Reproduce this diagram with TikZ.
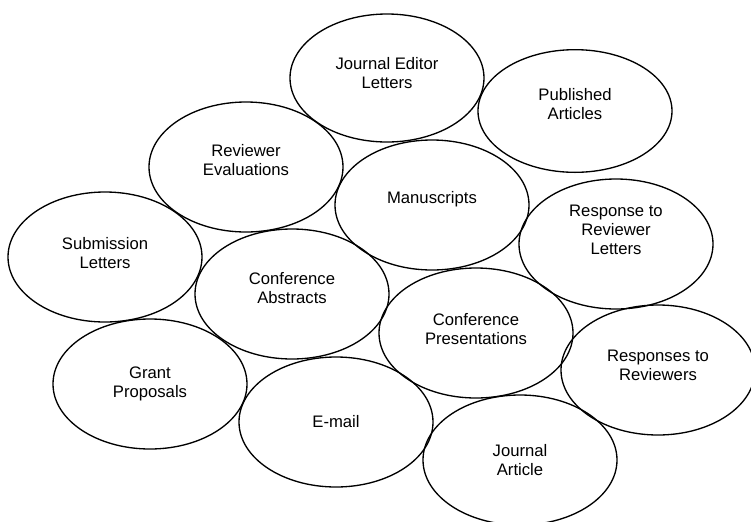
\documentclass[tikz,border=0pt]{standalone}
\usepackage{fontspec}
\setmainfont{Liberation Sans}
\usetikzlibrary{shapes.geometric}

\begin{document}
\begin{tikzpicture}[
    x=0.75pt, y=-0.75pt,
    bubble/.style={draw, line width=1pt, ellipse, inner sep=0pt,
                   minimum width=145.5pt, minimum height=97.5pt},
    txt/.style={align=center, inner sep=0pt,
                font=\fontsize{12.5}{14.3}\selectfont},
]
    \useasboundingbox (0,0) rectangle (751,522);

    % the twelve ellipses
    \node[bubble, minimum height=96pt] (jel) at (387,78) {};
    \node[bubble, minimum height=92pt] (pub) at (575,111) {};
    \node[bubble] (rev) at (246,167) {};
    \node[bubble] (manu) at (432,205) {};
    \node[bubble] (resp) at (616,244) {};
    \node[bubble] (sub) at (105,257) {};
    \node[bubble] (cabs) at (292,294) {};
    \node[bubble] (cpres) at (476,333) {};
    \node[bubble] (rtr) at (658,370) {};
    \node[bubble] (grant) at (150,384) {};
    \node[bubble] (email) at (336,422) {};
    \node[bubble] (jart) at (520,460) {};

    % their texts
    \node[txt, yshift=3.75pt] (jel-t) at (jel) {Journal Editor\\Letters};
    \node[txt, yshift=5.25pt] (pub-t) at (pub) {Published\\Articles};
    \node[txt, yshift=5.25pt] (rev-t) at (rev) {Reviewer\\Evaluations};
    \node[txt, yshift=4.5pt] (manu-t) at (manu) {Manuscripts};
    \node[txt, yshift=10.5pt] (resp-t) at (resp) {Response to\\Reviewer\\Letters};
    \node[txt, yshift=3pt] (sub-t) at (sub) {Submission\\Letters};
    \node[txt, yshift=4.5pt] (cabs-t) at (cabs) {Conference\\Abstracts};
    \node[txt, yshift=3pt] (cpres-t) at (cpres) {Conference\\Presentations};
    \node[txt, yshift=3.75pt] (rtr-t) at (rtr) {Responses to\\Reviewers};
    \node[txt] (grant-t) at (grant) {Grant\\Proposals};
    \node[txt] (email-t) at (email) {E-mail};
    \node[txt] (jart-t) at (jart) {Journal\\Article};
\end{tikzpicture}
\end{document}
